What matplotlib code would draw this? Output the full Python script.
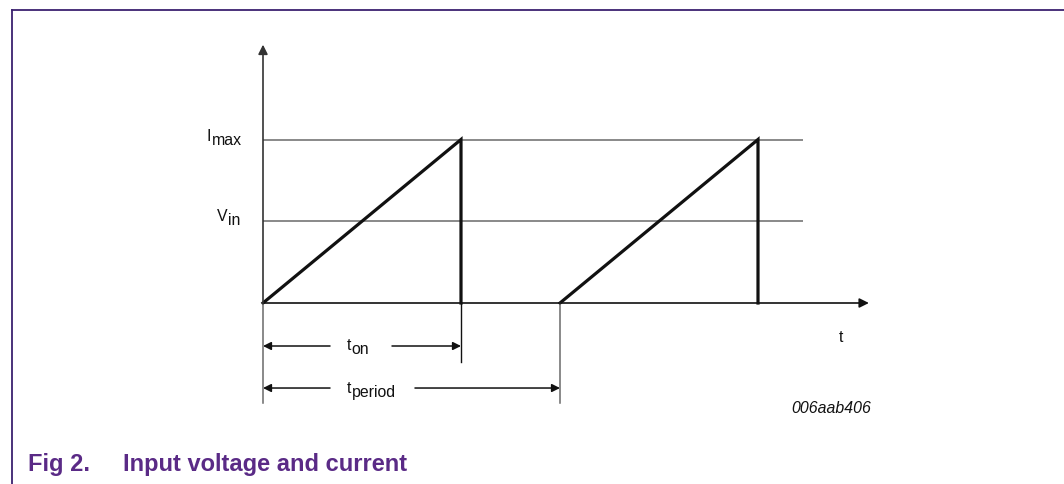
import matplotlib
matplotlib.use("Agg")
import matplotlib.pyplot as plt
from matplotlib.lines import Line2D

plt.rcParams['font.family'] = ['Liberation Sans', 'DejaVu Sans']

# --- diagram data (time in units of t_period/3, current in units of Imax) ---
t_on = 2.0
t_period = 3.0
n_pulses = 2
i_max = 1.0
v_in = 0.5
level_names = [('I', 'max'), ('V', 'in')]
level_values = [i_max, v_in]
t_axis_end = 6.12
y_axis_end = 1.58
level_line_end = 5.45

# pixel scale of the drawing (px per unit) and origin position
px_per_t = 99.0
px_per_i = 163.5
origin_px = (263, 303)
W, H = 1064, 484

fig = plt.figure(figsize=(W / 100, H / 100), dpi=100)
ax = fig.add_axes([0, 0, 1, 1])
ax.set_xlim(-origin_px[0] / px_per_t, (W - origin_px[0]) / px_per_t)
ax.set_ylim(-(H - origin_px[1]) / px_per_i, origin_px[1] / px_per_i)
ax.axis('off')

black = '#111111'
grey = '#6a6a6a'
fs = 11.4


def sub_label(x, y, main, sub):
    # main letter plus a full-size, lowered subscript (as in the datasheet)
    t = ax.text(x, y, main, ha='left', va='baseline', fontsize=fs, color=black)
    ax.annotate(sub, xy=(1, 0), xycoords=t, xytext=(0.3, -2.9),
                textcoords='offset points', ha='left', va='bottom',
                fontsize=fs, color=black)


# horizontal reference levels
label_x = [-0.566, -0.465]
label_dy = [-0.011, 0.0]
for (main, sub), val, lx, dy in zip(level_names, level_values, label_x, label_dy):
    ax.plot([0, level_line_end], [val, val], color=grey, lw=1.1, solid_capstyle='butt')
    sub_label(lx, val + dy, main, sub)

# axes with arrows
ax.annotate('', xy=(t_axis_end, 0), xytext=(0, 0),
            arrowprops=dict(arrowstyle='-|>', color=black, lw=1.2,
                            mutation_scale=14, shrinkA=0, shrinkB=0))
ax.annotate('', xy=(0, y_axis_end), xytext=(0, 0),
            arrowprops=dict(arrowstyle='-|>', color='#333333', lw=1.2,
                            mutation_scale=14, shrinkA=0, shrinkB=0))
ax.text(5.84, -0.21, 't', ha='center', va='center', fontsize=fs, color=black)

# sawtooth pulses
for k in range(n_pulses):
    t0 = k * t_period
    ax.plot([t0, t0 + t_on, t0 + t_on], [0, i_max, 0], color=black, lw=2.3,
            solid_joinstyle='miter')

# dimension extension lines
y_on = -0.263
y_per = -0.52
ax.plot([0, 0], [0, -0.61], color=grey, lw=1.1)
ax.plot([t_on, t_on], [0, -0.36], color=black, lw=1.0)
ax.plot([t_period, t_period], [0, -0.61], color=grey, lw=1.1)


def dim_arrow(y, x_end, main, sub, gap_l, gap_r, y_text):
    props = dict(arrowstyle='-|>', color=black, lw=1.1, mutation_scale=12,
                 shrinkA=0, shrinkB=0)
    ax.annotate('', xy=(0, y), xytext=(gap_l, y), arrowprops=props)
    ax.annotate('', xy=(x_end, y), xytext=(gap_r, y), arrowprops=props)
    sub_label(0.848, y_text, main, sub)


dim_arrow(y_on, t_on, 't', 'on', 0.677, 1.303, -0.290)
dim_arrow(y_per, t_period, 't', 'period', 0.677, 1.535, -0.553)

ax.text(5.74, -0.648, '006aab406', ha='center', va='center', fontsize=11.4,
        style='italic', color=black)

# frame lines and caption
purple_dark = '#3b2170'
purple = '#5a2a86'
fig.add_artist(Line2D([11.5 / W, 1.0], [1 - 9.5 / H, 1 - 9.5 / H],
                      transform=fig.transFigure, color=purple_dark, lw=1.3))
fig.add_artist(Line2D([11.5 / W, 11.5 / W], [0, 1 - 9.5 / H],
                      transform=fig.transFigure, color=purple_dark, lw=1.3))
fig.text(28 / W, 1 - 471 / H, 'Fig 2.', ha='left', va='baseline', fontsize=17,
         fontweight='bold', color=purple)
fig.text(123 / W, 1 - 471 / H, 'Input voltage and current', ha='left', va='baseline',
         fontsize=17, fontweight='bold', color=purple)

fig.savefig('out.png', dpi=100)
